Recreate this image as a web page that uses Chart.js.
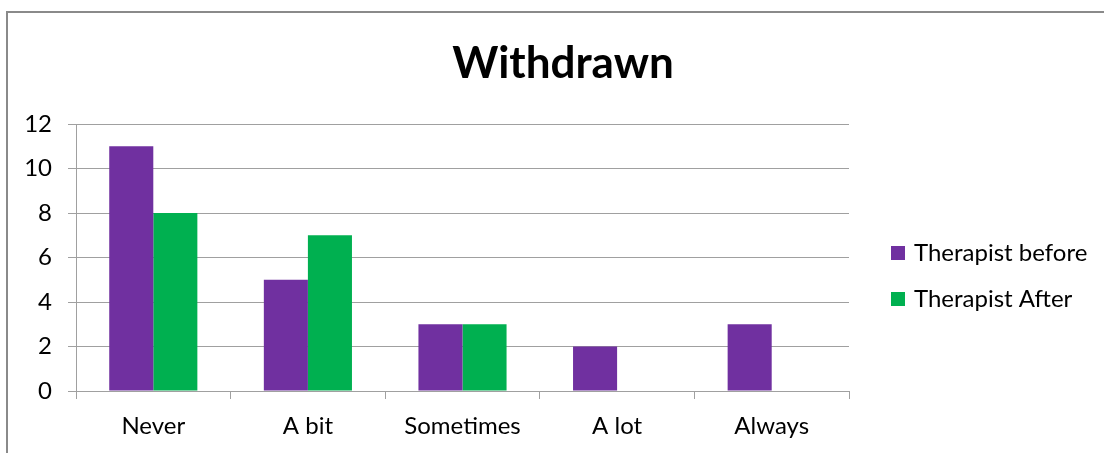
<!DOCTYPE html>
<html>
<head>
<meta charset="utf-8">
<script src="https://cdn.jsdelivr.net/npm/chart.js@4.4.1/dist/chart.umd.min.js"></script>
<style>
  html, body { margin: 0; padding: 0; background: #fff; overflow: hidden; width: 1104px; height: 453px; }
  #frame { position: absolute; left: 6px; top: 11px; width: 1110px; height: 450px; border: 2px solid #8a8a8a; }
  canvas { display: block; }
</style>
</head>
<body>
<div id="frame"><canvas id="c" width="1110" height="450"></canvas></div>
<script>
const categories = ["Never", "A bit", "Sometimes", "A lot", "Always"];
const seriesNames = ["Therapist before", "Therapist After"];
const therapistBefore = [11, 5, 3, 2, 3];
const therapistAfter = [8, 7, 3, 0, 0];
const yTicks = [0, 2, 4, 6, 8, 10, 12];
const chartTitle = "Withdrawn";
const colors = ["#7030A0", "#00B050"];

const FONT = "Lato, 'Open Sans', sans-serif";

const decorPlugin = {
  id: 'decor',
  afterDraw(chart) {
    const ctx = chart.ctx;
    ctx.save();
    // title
    ctx.font = "bold 44px " + FONT;
    ctx.textBaseline = 'middle';
    ctx.textAlign = 'center';
    ctx.fillStyle = '#000';
    ctx.fillText(chartTitle, 555, 51);
    // legend
    ctx.font = "24px " + FONT;
    ctx.textAlign = 'left';
    chart.data.datasets.forEach((ds, i) => {
      const cy = 240 + i * 46;
      ctx.fillStyle = ds.backgroundColor;
      ctx.fillRect(883, cy - 7, 14, 14);
      ctx.fillStyle = '#000';
      ctx.fillText(ds.label, 906, cy);
    });
    ctx.restore();
  }
};

new Chart(document.getElementById('c'), {
  type: 'bar',
  data: {
    labels: categories,
    datasets: [
      { label: seriesNames[0], data: therapistBefore, backgroundColor: colors[0], barPercentage: 1.0, categoryPercentage: 0.57 },
      { label: seriesNames[1], data: therapistAfter, backgroundColor: colors[1], barPercentage: 1.0, categoryPercentage: 0.57 }
    ]
  },
  options: {
    responsive: false,
    animation: false,
    devicePixelRatio: 1,
    layout: { padding: { left: 0, right: 269, top: 111, bottom: 0 } },
    plugins: {
      legend: { display: false },
      tooltip: { enabled: false },
      title: { display: false }
    },
    scales: {
      x: {
        afterFit: (s) => { s.height = 72; },
        grid: { offset: true, drawOnChartArea: false, drawTicks: true, tickLength: 8, color: '#a0a0a0' },
        border: { display: true, color: '#a0a0a0' },
        ticks: { color: '#000', font: { family: FONT, size: 24 }, padding: 13 }
      },
      y: {
        min: 0, max: 12,
        afterFit: (s) => { s.width = 68; },
        afterBuildTicks: (s) => { s.ticks = yTicks.map(v => ({ value: v })); },
        grid: { color: '#a0a0a0', tickLength: 8, drawTicks: true },
        border: { display: true, color: '#a0a0a0' },
        ticks: { color: '#000', font: { family: FONT, size: 24 }, padding: 16 }
      }
    }
  },
  plugins: [decorPlugin]
});
</script>
</body>
</html>
